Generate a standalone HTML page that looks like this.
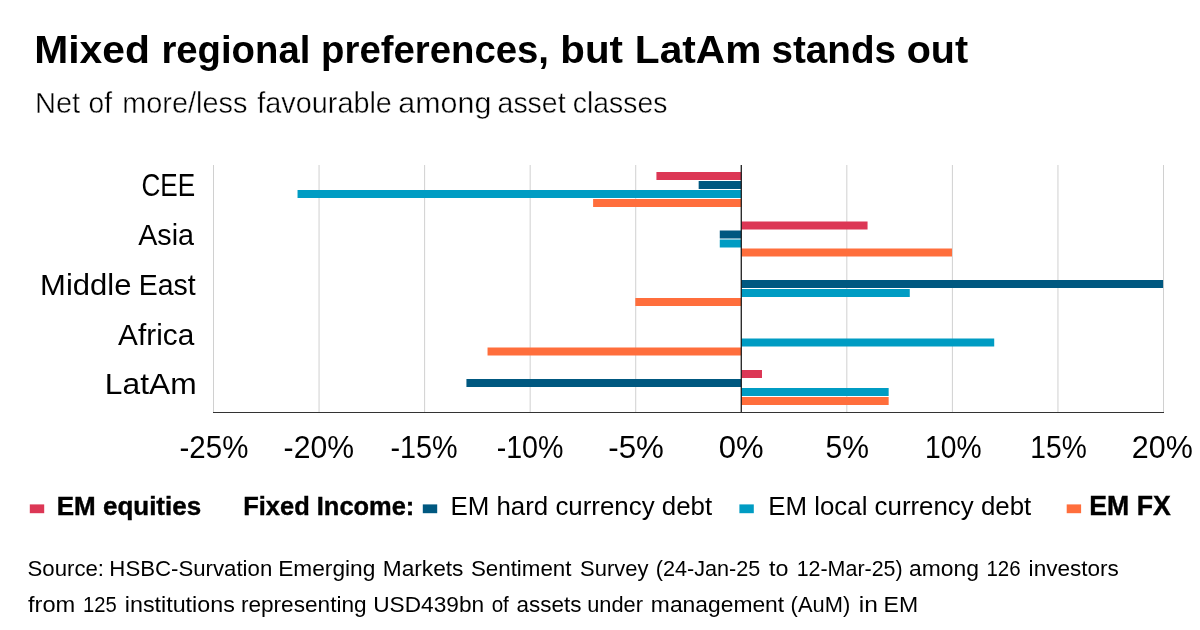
<!DOCTYPE html>
<html lang="en">
<head>
<meta charset="utf-8">
<title>Mixed regional preferences, but LatAm stands out</title>
<style>
html,body{margin:0;padding:0;background:#fff;}
body{width:1200px;height:630px;overflow:hidden;}
svg{display:block;}
text{font-family:"Liberation Sans", Arial, Helvetica, sans-serif;fill:#000;}
.b{font-weight:bold;}
.l{stroke:#fff;stroke-width:0.4px;}
.k{stroke:#000;stroke-width:0.4px;}
</style>
</head>
<body>
<svg width="1200" height="630" viewBox="0 0 1200 630">
<rect x="0" y="0" width="1200" height="630" fill="#ffffff"/>
<text id="title" y="62.8" font-size="38.5" class="b"><tspan id="title_0" x="34.19" textLength="115.65" lengthAdjust="spacingAndGlyphs">Mixed</tspan> <tspan id="title_1" x="161.38" textLength="148.95" lengthAdjust="spacingAndGlyphs">regional</tspan> <tspan id="title_2" x="321.09" textLength="227.88" lengthAdjust="spacingAndGlyphs">preferences,</tspan> <tspan id="title_3" x="560.35" textLength="62.59" lengthAdjust="spacingAndGlyphs">but</tspan> <tspan id="title_4" x="634.87" textLength="126.54" lengthAdjust="spacingAndGlyphs">LatAm</tspan> <tspan id="title_5" x="771.46" textLength="124.58" lengthAdjust="spacingAndGlyphs">stands</tspan> <tspan id="title_6" x="906.66" textLength="61.39" lengthAdjust="spacingAndGlyphs">out</tspan></text>
<text id="sub" y="112.7" font-size="29.5" class="l"><tspan id="sub_0" x="34.96" textLength="45.22" lengthAdjust="spacingAndGlyphs">Net</tspan> <tspan id="sub_1" x="88.56" textLength="23.46" lengthAdjust="spacingAndGlyphs">of</tspan> <tspan id="sub_2" x="122.16" textLength="125.38" lengthAdjust="spacingAndGlyphs">more/less</tspan> <tspan id="sub_3" x="257.35" textLength="134.49" lengthAdjust="spacingAndGlyphs">favourable</tspan> <tspan id="sub_4" x="398.30" textLength="93.03" lengthAdjust="spacingAndGlyphs">among</tspan> <tspan id="sub_5" x="497.55" textLength="68.05" lengthAdjust="spacingAndGlyphs">asset</tspan> <tspan id="sub_6" x="572.83" textLength="94.54" lengthAdjust="spacingAndGlyphs">classes</tspan></text>
<g stroke="#d0d0d0" stroke-width="1">
<line x1="213.50" y1="165" x2="213.50" y2="412.5"/>
<line x1="319.06" y1="165" x2="319.06" y2="412.5"/>
<line x1="424.61" y1="165" x2="424.61" y2="412.5"/>
<line x1="530.17" y1="165" x2="530.17" y2="412.5"/>
<line x1="635.72" y1="165" x2="635.72" y2="412.5"/>
<line x1="741.28" y1="165" x2="741.28" y2="412.5"/>
<line x1="846.83" y1="165" x2="846.83" y2="412.5"/>
<line x1="952.39" y1="165" x2="952.39" y2="412.5"/>
<line x1="1057.94" y1="165" x2="1057.94" y2="412.5"/>
<line x1="1163.50" y1="165" x2="1163.50" y2="412.5"/>
</g>
<rect x="656.43" y="172.00" width="84.84" height="8" fill="#DC3755"/>
<rect x="698.66" y="181.00" width="42.62" height="8" fill="#005880"/>
<rect x="297.54" y="190.00" width="443.73" height="8" fill="#009CC3"/>
<rect x="593.10" y="199.00" width="148.18" height="8" fill="#FF6E3C"/>
<rect x="741.28" y="221.50" width="126.27" height="8" fill="#DC3755"/>
<rect x="719.77" y="230.50" width="21.51" height="8" fill="#005880"/>
<rect x="719.77" y="239.50" width="21.51" height="8" fill="#009CC3"/>
<rect x="741.28" y="248.50" width="210.71" height="8" fill="#FF6E3C"/>
<rect x="741.28" y="280.00" width="421.82" height="8" fill="#005880"/>
<rect x="741.28" y="289.00" width="168.49" height="8" fill="#009CC3"/>
<rect x="635.32" y="298.00" width="105.96" height="8" fill="#FF6E3C"/>
<rect x="741.28" y="338.50" width="252.93" height="8" fill="#009CC3"/>
<rect x="487.54" y="347.50" width="253.73" height="8" fill="#FF6E3C"/>
<rect x="741.28" y="370.00" width="20.71" height="8" fill="#DC3755"/>
<rect x="466.43" y="379.00" width="274.84" height="8" fill="#005880"/>
<rect x="741.28" y="388.00" width="147.38" height="8" fill="#009CC3"/>
<rect x="741.28" y="397.00" width="147.38" height="8" fill="#FF6E3C"/>
<line x1="741.28" y1="165" x2="741.28" y2="412.5" stroke="#151515" stroke-width="1.2"/>
<line x1="213.0" y1="412.5" x2="1164.0" y2="412.5" stroke="#333" stroke-width="1.2"/>
<text id="cat0" y="195.5" font-size="31.4"><tspan id="cat0_0" x="141.51" textLength="53.71" lengthAdjust="spacingAndGlyphs">CEE</tspan></text>
<text id="cat1" y="245.2" font-size="30.2"><tspan id="cat1_0" x="138.24" textLength="55.81" lengthAdjust="spacingAndGlyphs">Asia</tspan></text>
<text id="cat2" y="294.9" font-size="30.2"><tspan id="cat2_0" x="40.14" textLength="91.35" lengthAdjust="spacingAndGlyphs">Middle</tspan> <tspan id="cat2_1" x="138.66" textLength="56.95" lengthAdjust="spacingAndGlyphs">East</tspan></text>
<text id="cat3" y="344.6" font-size="30.2"><tspan id="cat3_0" x="118.12" textLength="76.12" lengthAdjust="spacingAndGlyphs">Africa</tspan></text>
<text id="cat4" y="394.3" font-size="30.2"><tspan id="cat4_0" x="104.84" textLength="91.79" lengthAdjust="spacingAndGlyphs">LatAm</tspan></text>
<text id="ax0" y="457.9" font-size="32"><tspan id="ax0_0" x="179.55" textLength="68.82" lengthAdjust="spacingAndGlyphs">-25%</tspan></text>
<text id="ax1" y="457.9" font-size="32"><tspan id="ax1_0" x="283.62" textLength="70.31" lengthAdjust="spacingAndGlyphs">-20%</tspan></text>
<text id="ax2" y="457.9" font-size="32"><tspan id="ax2_0" x="390.44" textLength="67.19" lengthAdjust="spacingAndGlyphs">-15%</tspan></text>
<text id="ax3" y="457.9" font-size="32"><tspan id="ax3_0" x="496.66" textLength="66.82" lengthAdjust="spacingAndGlyphs">-10%</tspan></text>
<text id="ax4" y="457.9" font-size="32"><tspan id="ax4_0" x="608.26" textLength="55.61" lengthAdjust="spacingAndGlyphs">-5%</tspan></text>
<text id="ax5" y="457.9" font-size="32"><tspan id="ax5_0" x="718.84" textLength="44.86" lengthAdjust="spacingAndGlyphs">0%</tspan></text>
<text id="ax6" y="457.9" font-size="32"><tspan id="ax6_0" x="825.62" textLength="43.44" lengthAdjust="spacingAndGlyphs">5%</tspan></text>
<text id="ax7" y="457.9" font-size="32"><tspan id="ax7_0" x="924.98" textLength="56.55" lengthAdjust="spacingAndGlyphs">10%</tspan></text>
<text id="ax8" y="457.9" font-size="32"><tspan id="ax8_0" x="1030.32" textLength="56.39" lengthAdjust="spacingAndGlyphs">15%</tspan></text>
<text id="ax9" y="457.9" font-size="32"><tspan id="ax9_0" x="1131.81" textLength="60.96" lengthAdjust="spacingAndGlyphs">20%</tspan></text>
<rect x="29.8" y="504.4" width="14.4" height="8.8" fill="#DC3755"/>
<text id="lg0" y="514.8" font-size="25.8" class="b k"><tspan id="lg0_0" x="56.73" textLength="144.46" lengthAdjust="spacingAndGlyphs">EM equities</tspan></text>
<text id="lg1" y="514.8" font-size="25.8" class="b k"><tspan id="lg1_0" x="243.24" textLength="171.11" lengthAdjust="spacingAndGlyphs">Fixed Income:</tspan></text>
<rect x="422.8" y="504.4" width="14.4" height="8.8" fill="#005880"/>
<text id="lg2" y="514.8" font-size="25.5"><tspan id="lg2_0" x="450.44" textLength="261.75" lengthAdjust="spacingAndGlyphs">EM hard currency debt</tspan></text>
<rect x="739.4" y="504.4" width="14.4" height="8.8" fill="#009CC3"/>
<text id="lg3" y="514.8" font-size="25.5"><tspan id="lg3_0" x="768.22" textLength="263.03" lengthAdjust="spacingAndGlyphs">EM local currency debt</tspan></text>
<rect x="1066.7" y="504.4" width="14.4" height="8.8" fill="#FF6E3C"/>
<text id="lg4" y="514.8" font-size="27" class="b k"><tspan id="lg4_0" x="1089.28" textLength="81.42" lengthAdjust="spacingAndGlyphs">EM FX</tspan></text>
<text id="src1" y="575.8" font-size="22"><tspan id="src1_0" x="27.55" textLength="76.50" lengthAdjust="spacingAndGlyphs">Source:</tspan> <tspan id="src1_1" x="109.37" textLength="162.87" lengthAdjust="spacingAndGlyphs">HSBC-Survation</tspan> <tspan id="src1_2" x="278.17" textLength="97.17" lengthAdjust="spacingAndGlyphs">Emerging</tspan> <tspan id="src1_3" x="382.75" textLength="80.66" lengthAdjust="spacingAndGlyphs">Markets</tspan> <tspan id="src1_4" x="470.91" textLength="100.58" lengthAdjust="spacingAndGlyphs">Sentiment</tspan> <tspan id="src1_5" x="580.05" textLength="68.38" lengthAdjust="spacingAndGlyphs">Survey</tspan> <tspan id="src1_6" x="655.74" textLength="104.67" lengthAdjust="spacingAndGlyphs">(24-Jan-25</tspan> <tspan id="src1_7" x="769.08" textLength="19.41" lengthAdjust="spacingAndGlyphs">to</tspan> <tspan id="src1_8" x="796.65" textLength="105.99" lengthAdjust="spacingAndGlyphs">12-Mar-25)</tspan> <tspan id="src1_9" x="909.10" textLength="69.95" lengthAdjust="spacingAndGlyphs">among</tspan> <tspan id="src1_10" x="986.47" textLength="34.12" lengthAdjust="spacingAndGlyphs">126</tspan> <tspan id="src1_11" x="1028.64" textLength="90.19" lengthAdjust="spacingAndGlyphs">investors</tspan></text>
<text id="src2" y="611.8" font-size="22"><tspan id="src2_0" x="27.94" textLength="47.28" lengthAdjust="spacingAndGlyphs">from</tspan> <tspan id="src2_1" x="83.01" textLength="33.72" lengthAdjust="spacingAndGlyphs">125</tspan> <tspan id="src2_2" x="124.79" textLength="110.02" lengthAdjust="spacingAndGlyphs">institutions</tspan> <tspan id="src2_3" x="240.93" textLength="125.66" lengthAdjust="spacingAndGlyphs">representing</tspan> <tspan id="src2_4" x="373.23" textLength="110.88" lengthAdjust="spacingAndGlyphs">USD439bn</tspan> <tspan id="src2_5" x="491.63" textLength="17.19" lengthAdjust="spacingAndGlyphs">of</tspan> <tspan id="src2_6" x="516.41" textLength="64.97" lengthAdjust="spacingAndGlyphs">assets</tspan> <tspan id="src2_7" x="587.19" textLength="55.81" lengthAdjust="spacingAndGlyphs">under</tspan> <tspan id="src2_8" x="650.88" textLength="133.29" lengthAdjust="spacingAndGlyphs">management</tspan> <tspan id="src2_9" x="790.61" textLength="59.62" lengthAdjust="spacingAndGlyphs">(AuM)</tspan> <tspan id="src2_10" x="858.86" textLength="19.10" lengthAdjust="spacingAndGlyphs">in</tspan> <tspan id="src2_11" x="883.56" textLength="34.56" lengthAdjust="spacingAndGlyphs">EM</tspan></text>
</svg>
</body>
</html>
